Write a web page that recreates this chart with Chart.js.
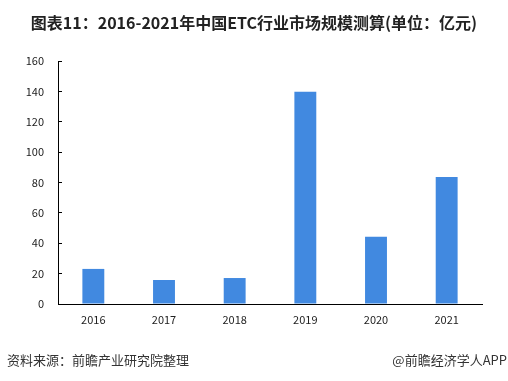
<!DOCTYPE html>
<html><head><meta charset="utf-8">
<script src="https://cdn.jsdelivr.net/npm/chart.js@4"></script>
<style>
html,body{margin:0;padding:0;background:#fff;}
#wrap{position:relative;width:508px;height:381px;overflow:hidden;font-family:"Noto Sans CJK SC","Noto Sans",sans-serif;}
#title{position:absolute;left:0;top:10px;width:508px;text-align:center;font-size:16px;font-weight:bold;color:#222;line-height:24px;white-space:nowrap;}
#src{position:absolute;left:7px;top:350px;font-size:13px;color:#333;line-height:20px;}
#app{position:absolute;right:1px;top:350px;font-size:13px;color:#333;line-height:20px;}
canvas{position:absolute;left:0;top:0;}
</style></head>
<body><div id="wrap">
<canvas id="c" width="508" height="381"></canvas>
<div id="title">图表11：2016-2021年中国ETC行业市场规模测算(单位：亿元)</div>
<div id="src">资料来源：前瞻产业研究院整理</div>
<div id="app">@前瞻经济学人APP</div>
</div>
<script>
const categories = ["2016","2017","2018","2019","2020","2021"];
const marketSize = [23.1, 15.8, 17.1, 139.7, 44.2, 83.7];
const yTicks = [0,20,40,60,80,100,120,140,160];

new Chart(document.getElementById('c'), {
  type: 'bar',
  data: {
    labels: categories,
    datasets: [{
      data: marketSize,
      backgroundColor: '#4189E0',
      barPercentage: 0.31,
      categoryPercentage: 1.0
    }]
  },
  options: {
    responsive: false,
    animation: false,
    devicePixelRatio: 1,
    layout: { padding: { left: 0, right: 26, top: 61, bottom: 0 } },
    plugins: { legend: { display: false }, tooltip: { enabled: false }, title: { display: false } },
    scales: {
      x: {
        grid: { display: true, drawOnChartArea: false, drawTicks: false },
        border: { color: '#000', width: 1 },
        ticks: { padding: 9, color: '#222', font: { size: 11, family: 'Noto Sans CJK SC' } },
        afterFit: s => { s.height = 77; }
      },
      y: {
        min: 0, max: 160,
        afterBuildTicks: s => { s.ticks = yTicks.map(v => ({ value: v })); },
        grid: { drawOnChartArea: false, drawTicks: true, tickLength: -4, color: '#000' },
        border: { color: '#000', width: 1 },
        ticks: { padding: 18, color: '#222', font: { size: 11, family: 'Noto Sans CJK SC' } },
        afterFit: s => { s.width = 58; }
      }
    }
  }
});
</script>
</body></html>
